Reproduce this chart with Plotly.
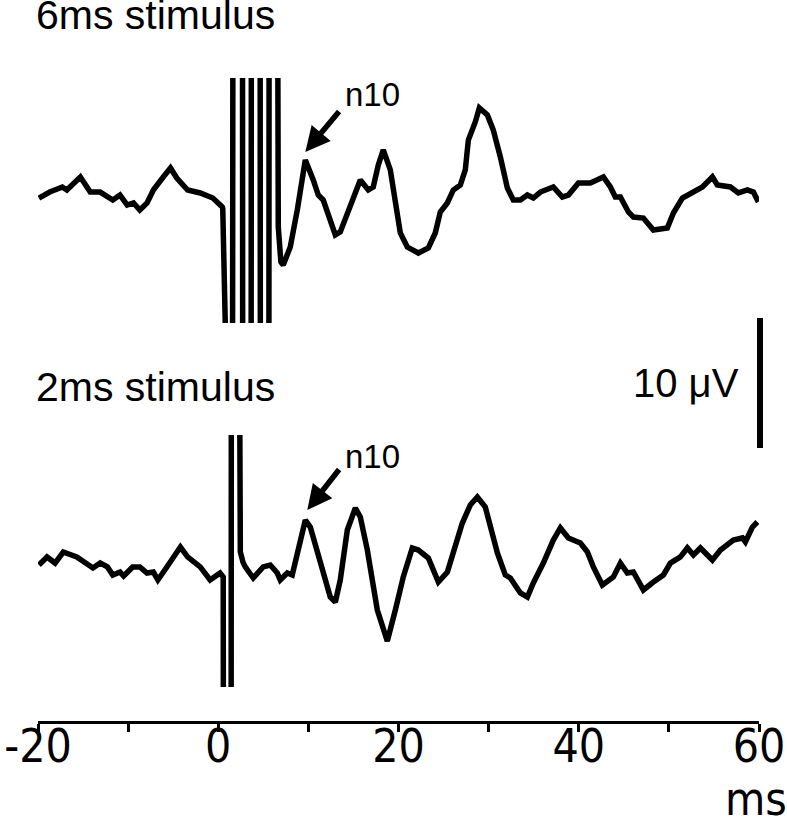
import plotly.graph_objects as go

# -------------------------------
# DATA (ms, uV)
# -------------------------------
t_6ms = [-19.9, -18.7, -17.3, -16.8, -15.3, -14.2, -13.1, -11.7, -10.9, -10.1, -9.4, -8.7, -7.9, -7.2,
         -6.1, -5.3, -4.6, -3.4, -2.0, -0.6, 0.45, 0.5, 0.85,
         1.55, 1.66, 2.67, 2.73, 3.63, 3.69, 4.63, 4.69, 5.60, 5.66, 6.50, 6.66, 6.95, 7.21,
         7.99, 8.77, 9.66, 10.54, 11.1, 11.65, 12.65, 12.99, 13.54, 14.65, 15.76, 16.65, 17.2, 17.76,
         18.31, 19.09, 19.65, 20.2, 20.98, 22.2, 23.31, 24.08, 24.64, 25.42, 26.08, 26.86, 27.41,
         27.75, 28.52, 28.97, 29.86, 30.52, 31.3, 32.08, 32.74, 33.52, 34.3, 34.96, 35.74, 37.18,
         38.18, 38.85, 39.96, 41.29, 42.73, 43.51, 44.06, 44.62, 45.51, 46.06, 47.17, 48.28, 49.83,
         50.5, 51.5, 52.39, 53.72, 54.83, 55.38, 56.83, 57.71, 58.71, 59.38, 59.93]
v_6ms = [-0.08, 0.38, 0.77, 0.54, 1.54, 0.38, 0.38, -0.23, 0.15, -0.62, -0.46, -1.0, -0.46, 0.54,
         1.54, 2.23, 1.46, 0.54, 0.31, -0.08, -0.77, -0.9, -12.0,
         -40, 40, 40, -40, -40, 40, 40, -40, -40, 40, 40, -2.3, -5.0, -5.23,
         -3.85, -1.0, 2.85, 1.31, 0.15, -0.23, -2.31, -2.92, -2.69, -0.77, 1.31, 0.54, 0.77, 2.46,
         3.62, 2.08, -0.23, -2.77, -3.85, -4.31, -3.92, -2.77, -1.15, -0.46, 0.54, 0.92, 2.08,
         4.38, 5.77, 6.85, 6.31, 5.15, 3.08, 0.69, -0.23, -0.23, 0.15, -0.08, 0.38, 0.77,
         0.0, 0.15, 1.08, 1.08, 1.54, 0.77, 0.0, 0.0, -1.15, -1.54, -1.62, -2.54, -2.38,
         -1.23, -0.08, 0.31, 0.77, 1.54, 0.92, 0.77, 0.31, 0.54, 0.38, -0.38]

t_2ms = [-19.9, -19.0, -18.1, -17.2, -15.7, -13.9, -13.1, -12.3, -11.7, -10.9, -10.5, -9.5, -8.7,
         -7.9, -7.2, -6.7, -5.7, -4.2, -3.4, -2.8, -2.0, -0.9, 0.2, 0.55, 0.62,
         1.41, 1.47, 2.22, 2.3, 2.45, 2.75, 3.0, 3.88, 4.99, 5.77, 6.55, 6.88, 7.66, 8.21, 8.77,
         9.66, 10.21, 11.32, 12.43, 12.99, 13.54, 14.32, 15.21, 15.76, 16.54, 17.65, 18.76, 19.65,
         20.53, 21.53, 22.2, 23.31, 24.42, 25.42, 26.08, 27.08, 27.97, 28.75, 29.63, 30.19, 30.97,
         31.85, 32.41, 33.52, 34.3, 34.96, 36.07, 37.18, 37.96, 38.85, 40.18, 40.96, 41.62, 42.62,
         43.84, 44.62, 45.39, 46.06, 47.17, 48.28, 49.39, 50.17, 51.28, 52.05, 52.72, 53.5, 54.83,
         55.72, 57.16, 58.16, 58.49, 59.27, 59.82]
v_2ms = [0.0, 0.62, 0.15, 1.0, 0.62, -0.23, 0.15, -0.15, -0.77, -0.54, -0.85, -0.15, -0.15,
         -0.62, -0.54, -1.15, -0.15, 1.38, 0.62, 0.23, -0.15, -1.15, -0.62, -0.92, -40,
         -40, 40, 40, 3.0, 1.0, 0.2, -0.15, -1.0, -0.15, 0.0, -0.62, -1.15, -0.62, -0.77, 0.92,
         3.46, 2.92, 0.38, -2.46, -2.85, -1.15, 2.69, 4.38, 3.69, 1.15, -3.46, -5.85, -3.46,
         -0.92, 1.31, 1.15, 0.54, -1.31, -0.54, 0.92, 3.23, 4.62, 5.23, 4.46, 2.92, 0.92,
         -0.77, -1.0, -2.15, -2.46, -1.38, 0.15, 1.92, 2.85, 2.08, 1.69, 1.0, -0.15, -1.54,
         -0.92, 0.15, -0.62, -0.54, -1.92, -1.31, -0.77, 0.15, 0.62, 1.31, 0.77, 1.31, 0.38,
         1.15, 1.92, 2.08, 1.77, 2.92, 3.31]

tick_vals = [-20, -10, 0, 10, 20, 30, 40, 50, 60]
tick_text = ["-20", "", "0", "", "20", "", "40", "", "60"]

n10_tip_6ms = (9.66, 3.46)
n10_tip_2ms = (9.88, 4.23)
scale_uv = 10
scale_bottom_uv = 9.0

# -------------------------------
# PLOT
# -------------------------------
W, H = 787, 826
L, R, T, B = 38, 28, 78, 104
ph = H - T - B


def py(p):
    # pixel row -> paper fraction
    return (H - B - p) / ph


def px(p):
    return (p - L) / (W - L - R)


fig = go.Figure()

fig.add_trace(go.Scatter(x=t_6ms, y=v_6ms, mode="lines", xaxis="x", yaxis="y",
                         line=dict(color="black", width=5.5), showlegend=False))
fig.add_trace(go.Scatter(x=t_2ms, y=v_2ms, mode="lines", xaxis="x", yaxis="y2",
                         line=dict(color="black", width=5.5), showlegend=False))
fig.add_trace(go.Scatter(x=[None], y=[None], xaxis="x", yaxis="y3", showlegend=False))

font_main = "Liberation Sans, Arial, sans-serif"
font_tick = "Liberation Sans Narrow, Arial Narrow, DejaVu Sans Condensed, sans-serif"

annos = [
    dict(text="6ms stimulus", x=px(34), y=py(-10), xref="paper", yref="paper",
         xanchor="left", yanchor="top", showarrow=False, font=dict(size=41)),
    dict(text="2ms stimulus", x=px(34), y=py(362), xref="paper", yref="paper",
         xanchor="left", yanchor="top", showarrow=False, font=dict(size=41)),
    dict(text="10 \u03bcV", x=px(741), y=py(383), xref="paper", yref="paper",
         xanchor="right", yanchor="middle", showarrow=False, font=dict(size=40)),
    dict(text="n10", x=px(343), y=py(94), xref="paper", yref="paper",
         xanchor="left", yanchor="middle", showarrow=False, font=dict(size=33)),
    dict(text="n10", x=px(343), y=py(457), xref="paper", yref="paper",
         xanchor="left", yanchor="middle", showarrow=False, font=dict(size=33)),
    dict(text="ms", x=px(789), y=py(828), xref="paper", yref="paper",
         xanchor="right", yanchor="bottom", showarrow=False,
         font=dict(size=46, family=font_tick)),
    dict(text="", x=n10_tip_6ms[0], y=n10_tip_6ms[1], xref="x", yref="y",
         showarrow=True, ax=35, ay=-42, arrowhead=2, arrowwidth=5.5, arrowsize=0.9,
         arrowcolor="black", standoff=0),
    dict(text="", x=n10_tip_2ms[0], y=n10_tip_2ms[1], xref="x", yref="y2",
         showarrow=True, ax=33, ay=-42, arrowhead=2, arrowwidth=5.5, arrowsize=0.9,
         arrowcolor="black", standoff=0),
]

fig.update_layout(
    width=W, height=H,
    margin=dict(l=L, r=R, t=T, b=B, autoexpand=False),
    paper_bgcolor="white", plot_bgcolor="rgba(0,0,0,0)",
    font=dict(family=font_main, color="black"),
    xaxis=dict(range=[-20, 60], anchor="free", position=0, automargin=False,
               showline=True, linewidth=3, linecolor="black",
               ticks="outside", ticklen=8, tickwidth=3, tickcolor="black",
               tickvals=tick_vals, ticktext=tick_text, ticklabelstandoff=-25,
               ticklabeloverflow="allow",
               tickfont=dict(size=46, family=font_tick),
               showgrid=False, zeroline=False),
    yaxis=dict(domain=[py(323), 1], range=[-9.69, 9.15], anchor="x", visible=False),
    yaxis2=dict(domain=[py(687), py(435)], range=[-9.385, 10.0], anchor="x", visible=False),
    yaxis3=dict(domain=[0, 1], range=[-12.08, 37.46], anchor="x", visible=False),
    annotations=annos,
    shapes=[dict(type="line", xref="paper", yref="y3", x0=px(760), x1=px(760),
                 y0=scale_bottom_uv, y1=scale_bottom_uv + scale_uv,
                 line=dict(color="black", width=6))],
)

# drop the page's default body margin so the figure fills the window
fig.write_html("out.html", config={"displayModeBar": False},
               post_script="document.body.style.margin='0px';")
